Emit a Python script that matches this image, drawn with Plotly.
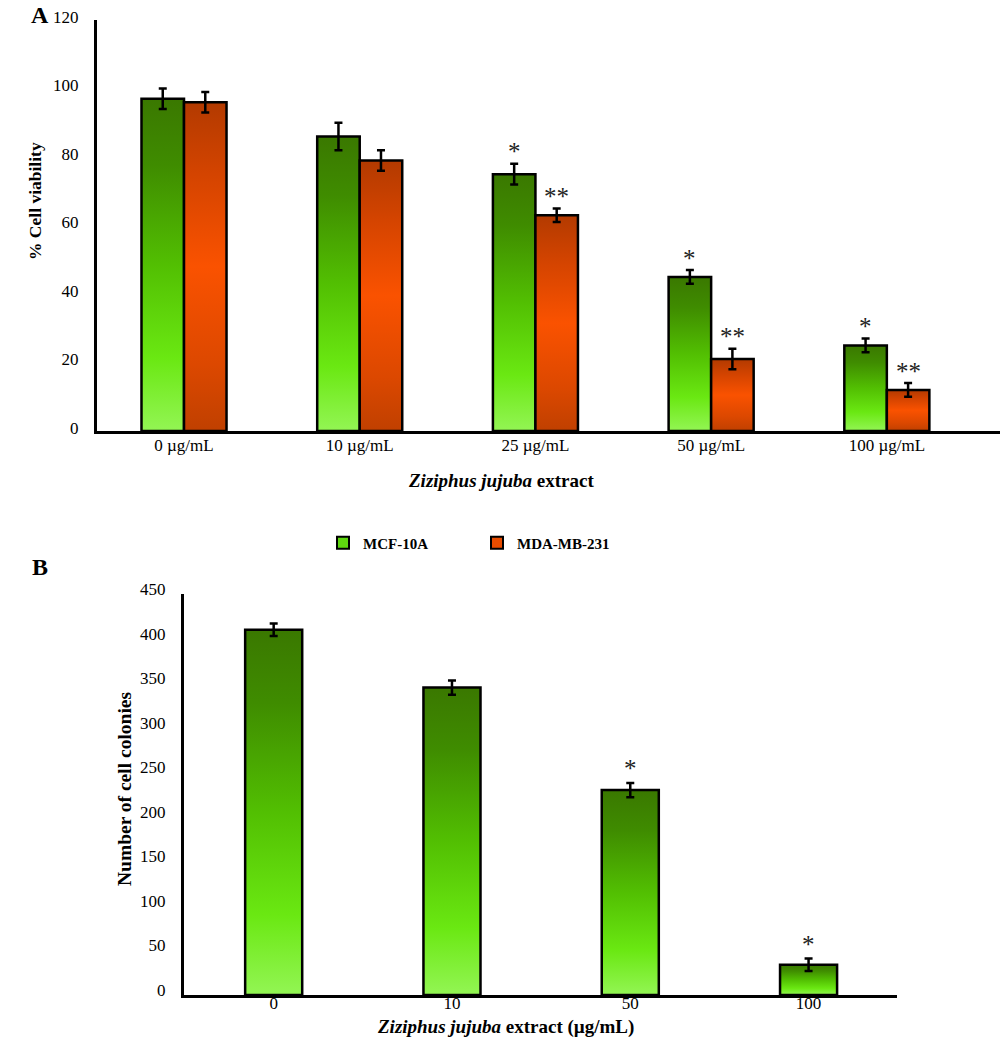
import plotly.graph_objects as go

# ---------------- data ----------------
conc_a = ["0 µg/mL", "10 µg/mL", "25 µg/mL", "50 µg/mL", "100 µg/mL"]
mcf_a = [97, 86, 75, 45, 25]
mcf_a_err = [3, 4, 3, 2, 2]
mcf_a_sig = ["", "", "*", "*", "*"]
mda_a = [96, 79, 63, 21, 12]
mda_a_err = [3, 3, 2, 3, 2]
mda_a_sig = ["", "", "**", "**", "**"]

conc_b = ["0", "10", "50", "100"]
col_b = [410, 345, 230, 34]
col_b_err = [7, 8, 8, 7]
col_b_sig = ["", "", "*", "*"]

# ---------------- style ----------------
FONT = "Liberation Serif"
GREEN_SCALE = [[0, "#93f554"], [0.22, "#6ae812"], [0.5, "#52bf02"], [0.8, "#3f8c00"], [1, "#3a7800"]]
ORANGE_SCALE = [[0, "#c04000"], [0.2, "#dc4800"], [0.5, "#fa5200"], [0.78, "#d44400"], [1, "#b33a00"]]

fig = go.Figure()


def add_bars(values, errs, sigs, offset, width, scale, xa, ya, star_shift):
    for i, v in enumerate(values):
        x0 = i + offset - width / 2
        x1 = i + offset + width / 2
        fig.add_trace(go.Scatter(
            x=[x0, x0, x1, x1, x0], y=[0, v, v, 0, 0],
            mode="lines", fill="toself",
            fillgradient=dict(type="vertical", colorscale=scale),
            line=dict(color="black", width=2.5),
            xaxis=xa, yaxis=ya, showlegend=False, hoverinfo="skip",
        ))
    fig.add_trace(go.Scatter(
        x=[i + offset for i in range(len(values))], y=values,
        mode="markers", marker=dict(size=1, opacity=0),
        error_y=dict(type="data", array=errs, visible=True, color="black",
                     thickness=2.5, width=4),
        xaxis=xa, yaxis=ya, showlegend=False, hoverinfo="skip",
    ))
    for i, (v, e, s) in enumerate(zip(values, errs, sigs)):
        if s:
            fig.add_annotation(
                x=i + offset, y=v + e, xref=xa, yref=ya.replace("axis", ""),
                text=s, showarrow=False, yanchor="middle", yshift=star_shift,
                font=dict(family=FONT, size=25, color="#222"),
            )


WA = 0.242
add_bars(mcf_a, mcf_a_err, mcf_a_sig, -WA / 2, WA, GREEN_SCALE, "x", "y", 12)
add_bars(mda_a, mda_a_err, mda_a_sig, WA / 2, WA, ORANGE_SCALE, "x", "y", 12)
add_bars(col_b, col_b_err, col_b_sig, 0, 0.32, GREEN_SCALE, "x2", "y2", 14)

# legend entries
fig.add_trace(go.Bar(x=[None], y=[None], name="MCF-10A",
                     marker=dict(color="#5fd80f", line=dict(color="black", width=2))))
fig.add_trace(go.Bar(x=[None], y=[None], name="MDA-MB-231",
                     marker=dict(color="#e84c00", line=dict(color="black", width=2))))

H = 1044.0
axis_common = dict(showgrid=False, zeroline=False, showline=True, linecolor="black",
                   linewidth=3, ticks="", automargin=False,
                   tickfont=dict(family=FONT, size=17, color="black"))

fig.update_layout(
    width=1000, height=1044,
    margin=dict(l=0, r=0, t=0, b=0),
    paper_bgcolor="white", plot_bgcolor="white",
    font=dict(family=FONT, color="black"),
    xaxis=dict(domain=[0.097, 1.0], range=[-0.4952, 4.644],
               tickmode="array", tickvals=list(range(len(conc_a))), ticktext=conc_a,
               anchor="y", ticklabelstandoff=-3, **axis_common),
    yaxis=dict(domain=[1 - 431 / H, 1 - 20 / H], range=[0, 120],
               tickvals=[0, 20, 40, 60, 80, 100, 120], anchor="x",
               ticklabelstandoff=12, ticklabelshift=-3, **axis_common),
    xaxis2=dict(domain=[0.184, 0.897], range=[-0.503, 3.496],
                tickmode="array", tickvals=list(range(len(conc_b))), ticktext=conc_b,
                anchor="y2", ticklabelstandoff=-9, **axis_common),
    yaxis2=dict(domain=[1 - 995 / H, 1 - 594 / H], range=[0, 450],
                tickvals=list(range(0, 451, 50)), anchor="x2",
                ticklabelstandoff=12, ticklabelshift=-5, **axis_common),
    legend=dict(orientation="h", x=0.323, y=1 - 543 / H, xanchor="left", yanchor="middle",
                font=dict(family=FONT, size=15, color="black", weight="bold"),
                entrywidth=109, itemwidth=30, bgcolor="rgba(0,0,0,0)"),
    barmode="overlay",
)

# panel labels and axis titles
fig.add_annotation(text="<b>A</b>", x=0.040, y=1 - 15 / H, xref="paper", yref="paper",
                   showarrow=False, xanchor="center", yanchor="middle",
                   font=dict(family=FONT, size=24))
fig.add_annotation(text="<b>B</b>", x=0.040, y=1 - 567 / H, xref="paper", yref="paper",
                   showarrow=False, xanchor="center", yanchor="middle",
                   font=dict(family=FONT, size=24))
fig.add_annotation(text="<b>% Cell viability</b>", x=0.035, y=1 - 201 / H,
                   xref="paper", yref="paper", showarrow=False, textangle=-90,
                   xanchor="center", yanchor="middle", font=dict(family=FONT, size=17.5))
fig.add_annotation(text="<b><i>Ziziphus jujuba</i> extract</b>", x=0.501, y=1 - 480 / H,
                   xref="paper", yref="paper", showarrow=False,
                   xanchor="center", yanchor="middle", font=dict(family=FONT, size=19))
fig.add_annotation(text="<b>Number of cell colonies</b>", x=0.124, y=1 - 789 / H,
                   xref="paper", yref="paper", showarrow=False, textangle=-90,
                   xanchor="center", yanchor="middle", font=dict(family=FONT, size=19.5))
fig.add_annotation(text="<b><i>Ziziphus jujuba</i> extract (µg/mL)</b>", x=0.505, y=1 - 1027 / H,
                   xref="paper", yref="paper", showarrow=False,
                   xanchor="center", yanchor="middle", font=dict(family=FONT, size=19))

fig.write_html("out.html")
